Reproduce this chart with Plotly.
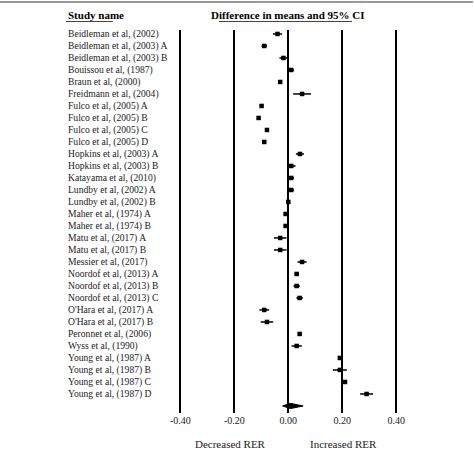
import plotly.graph_objects as go

studies = [
    "Beidleman et al, (2002)", "Beidleman et al, (2003) A", "Beidleman et al, (2003) B",
    "Bouissou et al, (1987)", "Braun et al, (2000)", "Freidmann et al, (2004)",
    "Fulco et al, (2005) A", "Fulco et al, (2005) B", "Fulco et al, (2005) C",
    "Fulco et al, (2005) D", "Hopkins et al, (2003) A", "Hopkins et al, (2003) B",
    "Katayama et al, (2010)", "Lundby et al, (2002) A", "Lundby et al, (2002) B",
    "Maher et al, (1974) A", "Maher et al, (1974) B", "Matu et al, (2017) A",
    "Matu et al, (2017) B", "Messier et al, (2017)", "Noordof et al, (2013) A",
    "Noordof et al, (2013) B", "Noordof et al, (2013) C", "O'Hara et al, (2017) A",
    "O'Hara et al, (2017) B", "Peronnet et al, (2006)", "Wyss et al, (1990)",
    "Young et al, (1987) A", "Young et al, (1987) B", "Young et al, (1987) C",
    "Young et al, (1987) D",
]
diff = [-0.040, -0.089, -0.018, 0.011, -0.030, 0.051, -0.099, -0.110, -0.079, -0.089,
        0.043, 0.011, 0.011, 0.011, 0.000, -0.010, -0.010, -0.030, -0.030, 0.051,
        0.031, 0.031, 0.042, -0.089, -0.079, 0.042, 0.031, 0.191, 0.191, 0.210, 0.290]
ci_half = [0.017, 0.010, 0.015, 0.010, 0.004, 0.033, 0.004, 0.004, 0.004, 0.004,
           0.015, 0.016, 0.010, 0.010, 0.004, 0.004, 0.004, 0.023, 0.023, 0.017,
           0.008, 0.012, 0.012, 0.018, 0.023, 0.004, 0.019, 0.006, 0.026, 0.004, 0.024]
summary_est = 0.008
summary_lo = -0.021
summary_hi = 0.055
tick_vals = [-0.4, -0.2, 0.0, 0.2, 0.4]
tick_text = ["-0.40", "-0.20", "0.00", "0.20", "0.40"]

rows = list(range(len(studies)))
summary_row = len(studies)

FONT = "Liberation Serif"
W, H = 474, 450
T, B = 30, 37
PH = H - T - B

def py(ypx):
    return (H - B - ypx) / PH

fig = go.Figure()
fig.add_trace(go.Scatter(
    x=diff, y=rows, mode="markers",
    marker=dict(symbol="square", size=4.5, color="black"),
    error_x=dict(type="data", array=ci_half, color="black", thickness=1.5, width=0),
    showlegend=False, hoverinfo="skip",
))
dh = 0.22
fig.add_trace(go.Scatter(
    x=[summary_lo, summary_est, summary_hi, summary_est, summary_lo],
    y=[summary_row, summary_row - dh, summary_row, summary_row + dh, summary_row],
    mode="lines", fill="toself", fillcolor="black",
    line=dict(color="black", width=1), showlegend=False, hoverinfo="skip",
))

annotations = []
for i, s in enumerate(studies):
    annotations.append(dict(
        x=66 / W, xref="paper", y=i, yref="y", text=s, showarrow=False,
        xanchor="left", yanchor="middle", font=dict(family=FONT, size=9.6, color="#222"),
    ))
annotations += [
    dict(x=66 / W, xref="paper", y=py(15), yref="paper", text="<b>Study name</b>",
         showarrow=False, xanchor="left", yanchor="middle",
         font=dict(family=FONT, size=11, color="black")),
    dict(x=287 / W, xref="paper", y=py(15), yref="paper",
         text="<b>Difference in means and 95% CI</b>", showarrow=False,
         xanchor="center", yanchor="middle", font=dict(family=FONT, size=11, color="black")),
    dict(x=230 / W, xref="paper", y=py(444), yref="paper", text="Decreased RER",
         showarrow=False, xanchor="center", yanchor="middle",
         font=dict(family=FONT, size=11, color="#222")),
    dict(x=343 / W, xref="paper", y=py(444), yref="paper", text="Increased RER",
         showarrow=False, xanchor="center", yanchor="middle",
         font=dict(family=FONT, size=11, color="#222")),
]

shapes = [
    dict(type="line", xref="paper", yref="paper", x0=0, x1=473 / W, y0=py(2), y1=py(2),
         line=dict(color="#777", width=1.5)),
    dict(type="line", xref="paper", yref="paper", x0=66 / W, x1=113 / W, y0=py(21.5), y1=py(21.5),
         line=dict(color="#444", width=1)),
    dict(type="line", xref="paper", yref="paper", x0=219 / W, x1=352 / W, y0=py(21.5), y1=py(21.5),
         line=dict(color="#444", width=1)),
]

x0px, scale = 288.3, 270.0
fig.update_layout(
    width=W, height=H, margin=dict(l=0, r=0, t=T, b=B),
    plot_bgcolor="white", paper_bgcolor="white",
    annotations=annotations, shapes=shapes,
    xaxis=dict(range=[(0 - x0px) / scale, (W - x0px) / scale],
               tickvals=tick_vals, ticktext=tick_text,
               showgrid=True, gridcolor="black", gridwidth=1.5,
               zeroline=False, showline=False, ticks="",
               tickfont=dict(family=FONT, size=10, color="#222")),
    yaxis=dict(range=[-0.33 + PH / 12.0, -0.33], showgrid=False, zeroline=False,
               showticklabels=False, ticks=""),
)
fig.write_html("out.html")
